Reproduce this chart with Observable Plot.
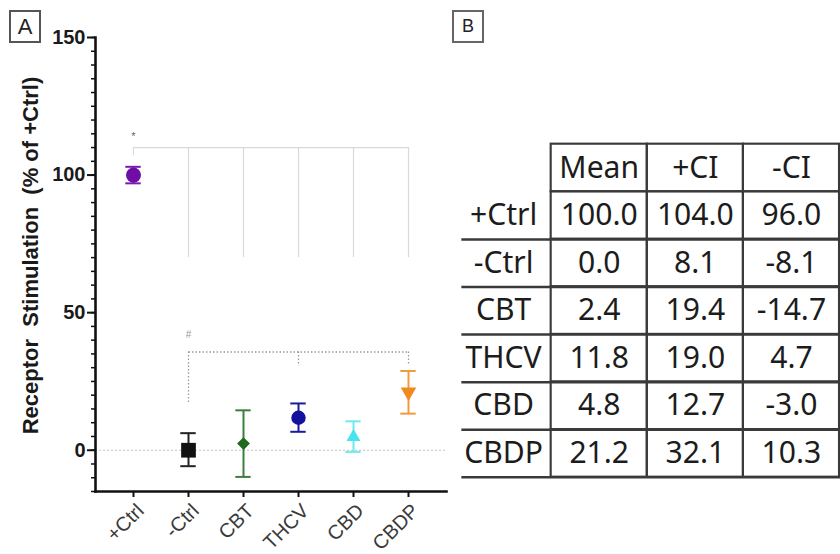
<!DOCTYPE html>
<html><head><meta charset="utf-8">
<script src="https://cdn.jsdelivr.net/npm/d3@7"></script>
<script src="https://cdn.jsdelivr.net/npm/@observablehq/plot@0.6"></script>
<style>
html,body{margin:0;padding:0;background:#fff;overflow:hidden;width:840px;height:554px}
#wrap{position:relative;width:840px;height:554px;overflow:hidden}
.panel{position:absolute;top:0}
.tag{position:absolute;box-sizing:border-box;border:2px solid #555;font-family:"Liberation Sans",Arial,sans-serif;color:#222;display:flex;align-items:center;justify-content:center;background:#fff}
</style></head>
<body><div id="wrap">
<div id="pa" class="panel" style="left:0"></div>
<div id="pb" class="panel" style="left:440px"></div>
<div class="tag" style="left:9px;top:10px;width:32px;height:33px;font-size:22px">A</div>
<div class="tag" style="left:452px;top:10px;width:32px;height:33px;font-size:18px;border-color:#666">B</div>
</div>
<script>
// ---- data ----
const groups = ["+Ctrl", "-Ctrl", "CBT", "THCV", "CBD", "CBDP"];
const means = [100.0, 0.0, 2.4, 11.8, 4.8, 21.2];
// error bar ends as drawn in panel A
const barUpper = [103.0, 6.2, 14.5, 17.0, 10.5, 28.8];
const barLower = [97.0, -5.8, -9.7, 6.7, -0.6, 13.3];
// table values (panel B)
const ciUpper = [104.0, 8.1, 19.4, 19.0, 12.7, 32.1];
const ciLower = [96.0, -8.1, -14.7, 4.7, -3.0, 10.3];
const tableCols = ["Mean", "+CI", "-CI"];
const yMajorTicks = [0, 50, 100, 150];
const yMinorTicks = d3.range(-15, 151, 5);
const yLabel = "Receptor\u00a0 Stimulation\u00a0 (% of +Ctrl)";
// significance annotations
const starBracket = {level: 110, from: "+Ctrl", to: "CBDP", mark: "*", markY: 114,
  legs: [{g: "+Ctrl", end: 107}, {g: "-Ctrl", end: 70}, {g: "CBT", end: 70}, {g: "THCV", end: 70}, {g: "CBD", end: 70}, {g: "CBDP", end: 70}]};
const hashBracket = {level: 35.7, from: "-Ctrl", to: "CBDP", mark: "#", markY: 42,
  legs: [{g: "-Ctrl", end: 17}, {g: "THCV", end: 30.5}, {g: "CBDP", end: 31}]};

// ---- styles ----
const colors = {"+Ctrl": "#6e0ea6", "-Ctrl": "#111111", "CBT": "#1e6a1e", "THCV": "#12129c", "CBD": "#45e4ee", "CBDP": "#f08a1e"};
const barColors = {"+Ctrl": "#7a1ab0", "-Ctrl": "#222222", "CBT": "#3d7d3d", "THCV": "#1a1aa0", "CBD": "#6ee9f0", "CBDP": "#f29a40"};
const triDown = {draw(ctx, size) { const s = Math.sqrt(size / (Math.sqrt(3) / 4)); const h = s * Math.sqrt(3) / 2;
  ctx.moveTo(0, h * 2 / 3); ctx.lineTo(s / 2, -h / 3); ctx.lineTo(-s / 2, -h / 3); ctx.closePath(); }};
const symbolOf = {"+Ctrl": "circle", "-Ctrl": "square", "CBT": "diamond2", "THCV": "circle", "CBD": "triangle", "CBDP": triDown};
const rOf = {"+Ctrl": 7.5, "-Ctrl": 8.3, "CBT": 5.8, "THCV": 7.2, "CBD": 5.2, "CBDP": 5.8};

const rows = groups.map((g, i) => ({g, mean: means[i], lo: barLower[i], hi: barUpper[i]}));

const capInset = 6.3;
const marksA = [
  Plot.ruleY([0], {stroke: "#c4c4c4", strokeDasharray: "2,2", strokeWidth: 1.2}),
  // * bracket
  Plot.link([starBracket], {x1: "from", x2: "to", y1: "level", y2: "level", stroke: "#d9d9d9", strokeWidth: 1.2}),
  Plot.ruleX(starBracket.legs, {x: "g", y1: starBracket.level, y2: "end", stroke: "#d9d9d9", strokeWidth: 1.2}),
  Plot.text([starBracket], {x: "from", y: "markY", text: "mark", fontSize: 11, fill: "#666"}),
  // # bracket
  Plot.link([hashBracket], {x1: "from", x2: "to", y1: "level", y2: "level", stroke: "#9a9a9a", strokeDasharray: "1.5,2", strokeWidth: 1.3}),
  Plot.ruleX(hashBracket.legs, {x: "g", y1: hashBracket.level, y2: "end", stroke: "#9a9a9a", strokeDasharray: "1.5,2", strokeWidth: 1.3}),
  Plot.text([hashBracket], {x: "from", y: "markY", text: "mark", fontSize: 10, fill: "#999"}),
  // error bars + markers
  ...rows.flatMap(d => [
    Plot.ruleX([d], {x: "g", y1: "lo", y2: "hi", stroke: barColors[d.g], strokeWidth: 2}),
    Plot.tickY([d], {x: "g", y: "lo", stroke: barColors[d.g], strokeWidth: 2, insetLeft: capInset, insetRight: capInset}),
    Plot.tickY([d], {x: "g", y: "hi", stroke: barColors[d.g], strokeWidth: 2, insetLeft: capInset, insetRight: capInset}),
    Plot.dot([d], {x: "g", y: "mean", symbol: symbolOf[d.g], r: rOf[d.g], fill: colors[d.g], stroke: "none"})
  ]),
  // axes
  Plot.axisY({ticks: yMinorTicks, tickSize: 4, tickFormat: null, text: null, stroke: "#111", strokeWidth: 1.5, label: null}),
  Plot.axisY({ticks: yMajorTicks, tickSize: 8, tickPadding: 2, fontSize: 20, fontWeight: "bold", fill: "#1a1a1a", stroke: "#111", strokeWidth: 2, label: null}),
  Plot.axisX({tickSize: 6, text: null, stroke: "#111", strokeWidth: 2, label: null}),
  Plot.axisX({tickSize: 0, tickPadding: 11, tickRotate: -45, fontSize: 20, dx: 7, dy: 5, fill: "#3a3a3a", label: null}),
  Plot.frame({anchor: "left", stroke: "#111", strokeWidth: 2.6}),
  Plot.frame({anchor: "bottom", stroke: "#111", strokeWidth: 2.6}),
  Plot.text([yLabel], {frameAnchor: "left", textAnchor: "middle", dx: -65, dy: -9, rotate: -90, fontSize: 22, fontWeight: "bold", fill: "#1a1a1a"})
];

const chartA = Plot.plot({
  width: 450, height: 554,
  marginLeft: 95, marginRight: 4, marginTop: 37, marginBottom: 63,
  x: {type: "band", domain: groups, paddingInner: 0.5, paddingOuter: 0.42, label: null},
  y: {domain: [-15, 150], label: null},
  style: {fontFamily: "'Liberation Sans', Arial, sans-serif", background: "transparent", overflow: "visible"},
  marks: marksA
});
document.getElementById("pa").appendChild(chartA);

// ---- table ----
const fmt = v => v.toFixed(1);
const cells = groups.flatMap((g, i) => [
  {row: g, col: "Mean", v: fmt(means[i])},
  {row: g, col: "+CI", v: fmt(ciUpper[i])},
  {row: g, col: "-CI", v: fmt(ciLower[i])}
]);
const headerCells = tableCols.map(c => ({row: "header", col: c, v: c}));
const tFont = "'Noto Sans', 'Open Sans', sans-serif";
const tH = 554, tTop = 147, tBottom = 62;
const rowBand = (tH - tTop - tBottom) / (groups.length + 1);

const chartB = Plot.plot({
  width: 412, height: tH,
  marginLeft: 113, marginRight: 0, marginTop: tTop, marginBottom: tBottom,
  x: {type: "band", domain: tableCols, padding: 0, axis: null},
  y: {type: "band", domain: ["header", ...groups], padding: 0, axis: null},
  style: {fontFamily: tFont, background: "transparent", overflow: "visible"},
  marks: [
    Plot.cell([...headerCells, ...cells], {x: "col", y: "row", fill: "none", stroke: "#3a3a3a", strokeWidth: 2.2}),
    Plot.ruleY(groups, {y: d => d, dy: rowBand / 2, insetLeft: -91, stroke: "#3a3a3a", strokeWidth: 2.6}),
    Plot.text([...headerCells, ...cells], {x: "col", y: "row", text: "v", fontSize: 31, fill: "#1c1c1c"}),
    Plot.text(groups, {y: d => d, text: d => d, frameAnchor: "left", dx: -48, textAnchor: "middle", fontSize: 31, fill: "#1c1c1c"})
  ]
});
document.getElementById("pb").appendChild(chartB);
</script>
</body></html>
